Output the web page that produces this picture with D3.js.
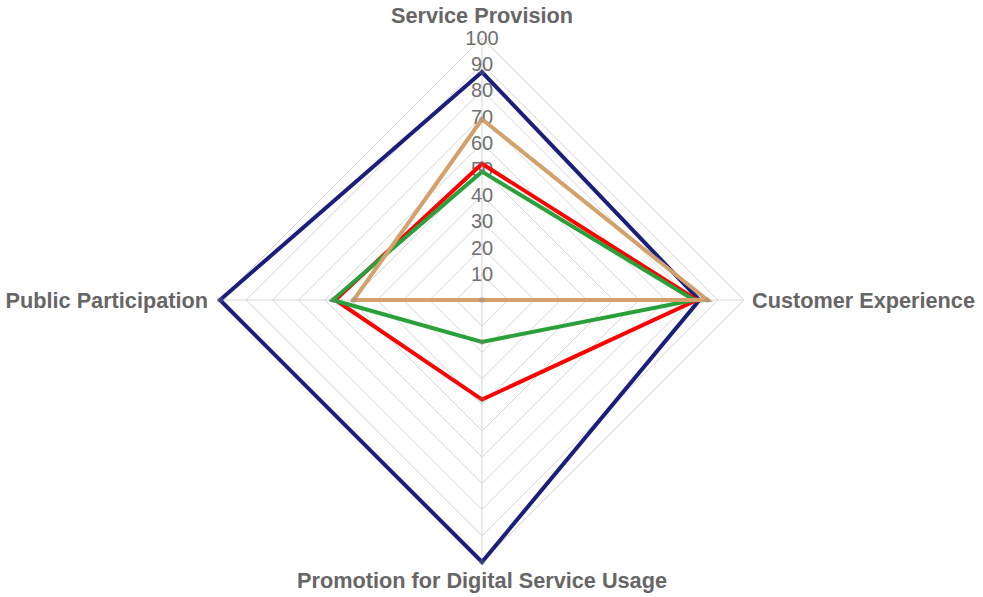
<!DOCTYPE html>
<html>
<head>
<meta charset="utf-8">
<script src="https://cdn.jsdelivr.net/npm/d3@7"></script>
<style>
  body { margin: 0; background: #fff; }
  text { font-family: "Liberation Sans", Arial, sans-serif; }
</style>
</head>
<body>
<div id="chart"></div>
<script>
// axes, clockwise from top
const axes = ["Service Provision", "Customer Experience", "Promotion for Digital Service Usage", "Public Participation"];
const tickValues = [10, 20, 30, 40, 50, 60, 70, 80, 90, 100];

// series values in axis order
const seriesNames = ["Navy", "Red", "Green", "Tan"];
const navyVals = [87, 83, 100, 100];
const redVals = [52, 82, 38, 56];
const greenVals = [49, 81, 16, 57];
const tanVals = [69, 86, 0, 49];
const seriesColors = ["#1b1f7c", "#ff0000", "#2aa03a", "#d4a06c"];

const series = [navyVals, redVals, greenVals, tanVals];

const W = 983, H = 597;
const cx = 482, cy = 300, R = 262;

const svg = d3.select("#chart").append("svg")
    .attr("width", W).attr("height", H);

const r = d3.scaleLinear().domain([0, 100]).range([0, R]);
const angle = i => -Math.PI / 2 + i * 2 * Math.PI / axes.length;
const pt = (i, v) => [cx + r(v) * Math.cos(angle(i)), cy + r(v) * Math.sin(angle(i))];

// grid rings
const g = svg.append("g");
tickValues.forEach(t => {
    g.append("polygon")
        .attr("points", axes.map((a, i) => pt(i, t).join(",")).join(" "))
        .attr("fill", "none")
        .attr("stroke", "#d6d6d6")
        .attr("stroke-width", 1);
});
// angle lines
axes.forEach((a, i) => {
    const [x, y] = pt(i, 100);
    g.append("line")
        .attr("x1", cx).attr("y1", cy).attr("x2", x).attr("y2", y)
        .attr("stroke", "#d6d6d6").attr("stroke-width", 1);
});

// tick labels on the top axis
svg.append("g").selectAll("text")
    .data(tickValues)
    .enter().append("text")
    .attr("x", cx)
    .attr("y", d => cy - r(d))
    .attr("dy", "0.35em")
    .attr("text-anchor", "middle")
    .attr("fill", "#707070")
    .style("font-size", "20px")
    .text(d => d);

// point labels
const labelPos = [
    {x: cx, y: 15, anchor: "middle"},
    {x: 752, y: 300, anchor: "start"},
    {x: cx, y: 580, anchor: "middle"},
    {x: 208, y: 300, anchor: "end"}
];
svg.append("g").selectAll("text")
    .data(axes)
    .enter().append("text")
    .attr("x", (d, i) => labelPos[i].x)
    .attr("y", (d, i) => labelPos[i].y)
    .attr("dy", "0.35em")
    .attr("text-anchor", (d, i) => labelPos[i].anchor)
    .attr("fill", "#666")
    .style("font-size", "21.7px")
    .style("font-weight", "bold")
    .text(d => d);

// series lines
const line = d3.line().curve(d3.curveLinearClosed);
series.forEach((vals, s) => {
    svg.append("path")
        .attr("d", line(vals.map((v, i) => pt(i, v))))
        .attr("fill", "none")
        .attr("stroke", seriesColors[s])
        .attr("stroke-width", 4)
        .attr("stroke-linejoin", "miter");
    svg.append("g").selectAll("circle")
        .data(vals)
        .enter().append("circle")
        .attr("cx", (v, i) => pt(i, v)[0])
        .attr("cy", (v, i) => pt(i, v)[1])
        .attr("r", 3)
        .attr("fill", "rgba(128,128,128,0.3)");
});
</script>
</body>
</html>
